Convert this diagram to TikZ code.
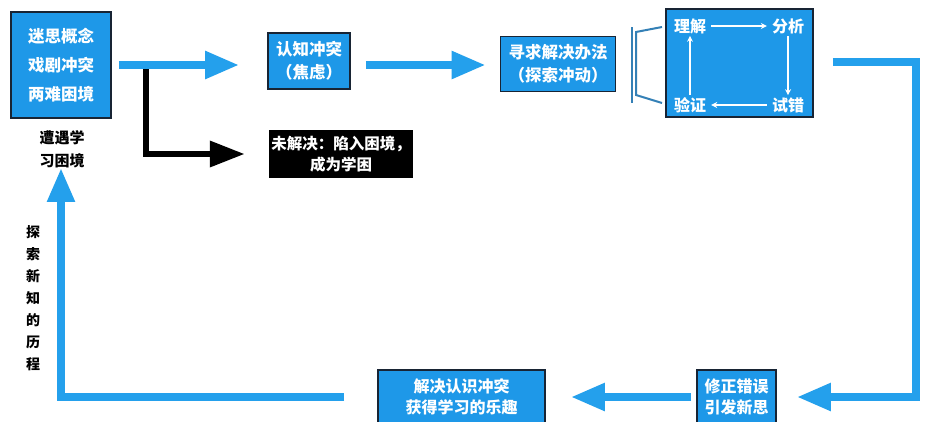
\documentclass[tikz,border=0pt]{standalone}
\usepackage{fontspec}
\setmainfont{Noto Sans CJK SC}
\usetikzlibrary{positioning}
\usetikzlibrary{arrows.meta}
\usetikzlibrary{calc}
\definecolor{boxblue}{RGB}{30,152,232}
\definecolor{arrowblue}{RGB}{36,160,236}
\definecolor{boxedge}{RGB}{24,36,52}
\definecolor{bracketblue}{RGB}{52,128,182}

\begin{document}
\begin{tikzpicture}[x=1pt,y=-1pt,
        bluebox/.style={draw=boxedge, line width=1.6pt, fill=boxblue, text=white, align=center, inner sep=0pt},
        darkbox/.style={fill=black, text=white, align=center, inner sep=0pt},
        plainlabel/.style={align=center, inner sep=0pt, font=\bfseries\fontsize{15}{23}\selectfont},
        cycletext/.style={text=white, inner xsep=5pt, inner ysep=2pt, font=\bfseries\fontsize{16}{18}\selectfont},
        bigarrow/.style={draw=arrowblue, line width=8pt, -{Triangle[length=34pt,width=26pt]}},
        blackarrow/.style={draw=black, line width=6.5pt, -{Triangle[length=35pt,width=25pt]}},
        cyclearrow/.style={draw=white, line width=1.4pt, -{Stealth[length=6pt,width=6pt]}},
        bracketline/.style={draw=bracketblue, line width=2pt}]
        \clip (0,0) rectangle (936,421);
        \fill[white] (0,0) rectangle (936,421);

        \node[bluebox, minimum width=100pt, minimum height=106pt, font=\bfseries\fontsize{16.5}{29}\selectfont] (mis) at (61,65) {迷思概念\\戏剧冲突\\两难困境};
        \node[plainlabel] (meet) at (62,149) {遭遇学\\习困境};
        \node[bluebox, minimum width=82pt, minimum height=56pt, font=\bfseries\fontsize{16.5}{23}\selectfont] (conf) at (309,61) {认知冲突\\（焦虑）};
        \node[darkbox, minimum width=144pt, minimum height=48pt, font=\bfseries\fontsize{15.5}{21}\selectfont] (stuck) at (341,154) {未解决：陷入困境，\\成为学困};
        \node[bluebox, minimum width=115pt, minimum height=55pt, font=\bfseries\fontsize{16.5}{23}\selectfont] (seek) at (558,64) {寻求解决办法\\（探索冲动）};
        \node[bluebox, minimum width=147pt, minimum height=108pt] (cycle) at (739.5,63) {};
        \node[cycletext] (und) at (690,26) {理解};
        \node[cycletext] (ana) at (788,26) {分析};
        \node[cycletext] (err) at (788,105) {试错};
        \node[cycletext] (ver) at (690,105) {验证};
        \node[bluebox, minimum width=79pt, minimum height=54pt, font=\bfseries\fontsize{16}{21}\selectfont] (fix) at (736.5,397) {修正错误\\引发新思};
        \node[bluebox, minimum width=167pt, minimum height=54pt, font=\bfseries\fontsize{16}{21}\selectfont] (sol) at (461.5,397) {解决认识冲突\\获得学习的乐趣};
        \node[plainlabel, font=\bfseries\fontsize{14}{22}\selectfont] (path) at (33,298) {探\\索\\新\\知\\的\\历\\程};

        \draw[cyclearrow] (und) -- (ana);
        \draw[cyclearrow] (ana) -- (err);
        \draw[cyclearrow] (err) -- (ver);
        \draw[cyclearrow] (ver) -- (und);

        \draw[bracketline] (632,27) -- (632,103);
        \draw[bracketline] (662,27) -- (636,32) -- (636,95) -- (662,103);

        \coordinate (fork) at (146,65);
        \coordinate (rtop) at (916,62);
        \coordinate (rbot) at (916,397);
        \coordinate (lbot) at (61,397);

        \draw[blackarrow, shorten >=24pt] (fork) |- (stuck.west);
        \draw[bigarrow, shorten <=7pt, shorten >=28pt] (mis.east) -- (mis.east -| conf.west);
        \draw[bigarrow, shorten <=15pt, shorten >=14pt] (conf.east |- mis.east) -- (mis.east -| seek.west);
        \draw[bigarrow, shorten <=19pt, shorten >=20pt] (cycle.east |- rtop) -- (rtop) -- (rbot) -- (rbot -| fix.east);
        \draw[bigarrow, shorten <=5pt, shorten >=25pt] (fix.west) -- (sol.east);
        \draw[bigarrow, shorten <=33pt] (sol.west |- lbot) -- (lbot) -- (lbot |- meet.south);
    \end{tikzpicture}
\end{document}
